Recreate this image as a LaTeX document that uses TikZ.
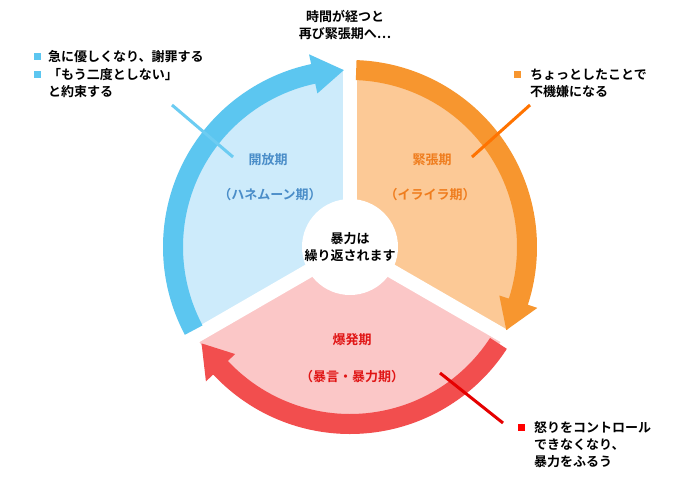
\documentclass[tikz,border=0pt]{standalone}
\usepackage{fontspec}
\setmainfont{Noto Sans CJK JP}[BoldFont={* Bold}]
\definecolor{oband}{HTML}{F7962F}\definecolor{ofill}{HTML}{FCC996}
\definecolor{bband}{HTML}{5CC6F0}\definecolor{bfill}{HTML}{CDEBFB}
\definecolor{rband}{HTML}{F24E4E}\definecolor{rfill}{HTML}{FBC7C7}
\definecolor{btext}{HTML}{4A8DC8}\definecolor{otext}{HTML}{EF7D1E}\definecolor{rtext}{HTML}{E01515}
\begin{document}
\begin{tikzpicture}[x=1pt,y=1pt,
  txt/.style={font=\fontsize{13}{17}\selectfont\bfseries,inner sep=0pt},
  lab/.style={txt,align=center},
  call/.style={txt,anchor=west,align=left},
  sq/.style={fill=#1,minimum size=7pt,inner sep=0pt}]
\useasboundingbox (0,0) rectangle (700,485);
\fill[white] (0,0) rectangle (700,485);
\begin{scope}[shift={(350,238)}]
\fill[ofill] (0,0) -- (90:178pt) arc[start angle=90,end angle=-30,radius=178pt] -- cycle;
\fill[rfill] (0,0) -- (-30:178pt) arc[start angle=-30,end angle=-150,radius=178pt] -- cycle;
\fill[bfill] (0,0) -- (210:178pt) arc[start angle=210,end angle=90,radius=178pt] -- cycle;
\foreach \a in {90,-30,210} \draw[white,line width=14pt] (0,0) -- (\a:205pt);
\fill[oband] (88:187pt) arc[start angle=88,end angle=-18,radius=187pt] -- (-18:197pt) -- (-28:177pt) -- (-18:157pt) -- (-18:167pt) arc[start angle=-18,end angle=88,radius=167pt] -- cycle;
\fill[rband] (-33:187pt) arc[start angle=-33,end angle=-137,radius=187pt] -- (-137:197pt) -- (-147:177pt) -- (-137:157pt) -- (-137:167pt) arc[start angle=-137,end angle=-33,radius=167pt] -- cycle;
\fill[bband] (208:187pt) arc[start angle=208,end angle=102,radius=187pt] -- (102:197pt) -- (92:177pt) -- (102:157pt) -- (102:167pt) arc[start angle=102,end angle=208,radius=167pt] -- cycle;
\node[circle,fill=white,minimum size=96pt,inner sep=0pt,lab] (c) at (0,0) {暴力は\\繰り返されます};
\end{scope}
\node[lab,text=btext] (h1) at (268,325) {開放期};
\node[lab,text=btext] (h2) at (270,290) {（ハネムーン期）};
\node[lab,text=otext] (t1) at (432,325) {緊張期};
\node[lab,text=otext] (t2) at (430,290) {（イライラ期）};
\node[lab,text=rtext] (e1) at (352,145) {爆発期};
\node[lab,text=rtext] (e2) at (352,108) {（暴言・暴力期）};
\node[lab] (top) at (345,460) {時間が経つと\\再び緊張期へ…};
\coordinate (b1) at (172,380); \coordinate (b2) at (233,328);
\coordinate (o1) at (530,380); \coordinate (o2) at (472,328);
\coordinate (r1) at (440,112); \coordinate (r2) at (503,62);
\draw[line width=3pt,color=bband!90] (b1) -- (b2);
\draw[line width=3pt,color=orange!90!red] (o1) -- (o2);
\draw[line width=3pt,color=red!90!black] (r1) -- (r2);
\node[sq=bband] (s1) at (37,428) {};
\node[sq=bband] (s2) at (37,410) {};
\node[call] (c1) at (48,428) {急に優しくなり、謝罪する};
\node[call] (c2) at (48,410) {「もう二度としない」};
\node[call] (c3) at (48,393) {と約束する};
\node[sq=oband] (s3) at (517,410) {};
\node[call] (c4) at (530,410) {ちょっとしたことで};
\node[call] (c5) at (530,393) {不機嫌になる};
\node[sq=red] (s4) at (521,58) {};
\node[call] (c6) at (534,58) {怒りをコントロール};
\node[call] (c7) at (534,40) {できなくなり、};
\node[call] (c8) at (534,23) {暴力をふるう};
\end{tikzpicture}
\end{document}
